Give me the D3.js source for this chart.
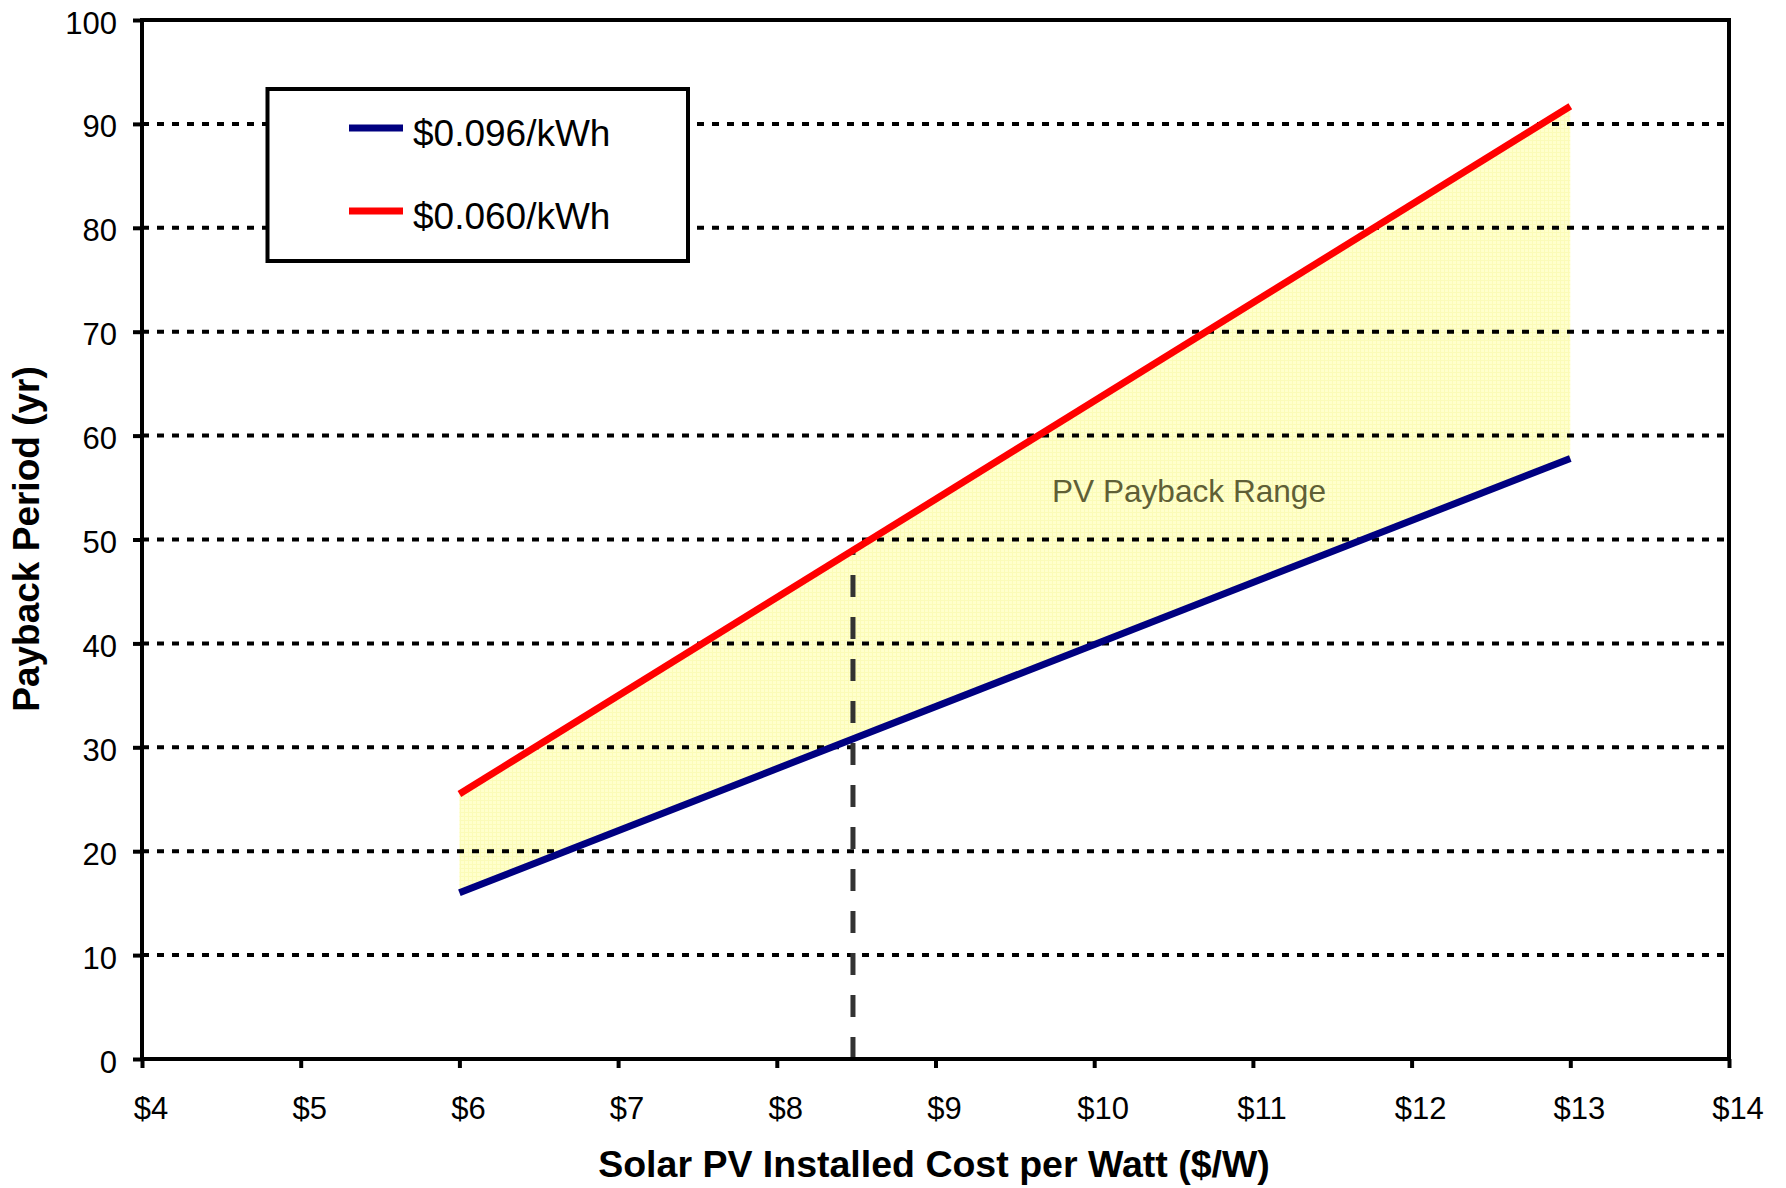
<!DOCTYPE html>
<html>
<head>
<meta charset="utf-8">
<script src="https://cdn.jsdelivr.net/npm/d3@7/dist/d3.min.js"></script>
<style>
  html, body { margin: 0; padding: 0; background: #fff; }
  svg { display: block; }
  text { font-family: "Liberation Sans", Arial, sans-serif; }
</style>
</head>
<body>
<svg id="chart" width="1786" height="1188"></svg>
<script>
// ---- data ----
const costs = [6, 13];                       // $/W installed cost
const payback096 = [16.0, 57.8];             // $0.096/kWh series (yr)
const payback060 = [25.5, 91.7];             // $0.060/kWh series (yr)
const seriesNames = ["$0.096/kWh", "$0.060/kWh"];
const xTicks = [4, 5, 6, 7, 8, 9, 10, 11, 12, 13, 14];
const yTicks = [0, 10, 20, 30, 40, 50, 60, 70, 80, 90, 100];
const markerCost = [8.48];                   // dashed reference cost
const markerTop = [49.0];                    // where it meets the red line
const rangeLabel = "PV Payback Range";
const xTitle = "Solar PV Installed Cost per Watt ($/W)";
const yTitle = "Payback Period (yr)";

// ---- layout ----
const L = 142, R = 1729, T = 20, B = 1059;
const svg = d3.select("#chart");
const x = d3.scaleLinear().domain([4, 14]).range([L, R]);
const y = d3.scaleLinear().domain([0, 100]).range([B, T]);

const pts = costs.map((c, i) => ({ c, lo: payback096[i], hi: payback060[i] }));

// pattern fill
const defs = svg.append("defs");
const pat = defs.append("pattern").attr("id", "yel").attr("patternUnits", "userSpaceOnUse")
  .attr("width", 4).attr("height", 4);
pat.append("rect").attr("width", 4).attr("height", 4).attr("fill", "#ffffcc");
pat.append("rect").attr("width", 4).attr("height", 1).attr("fill", "#fbfbb8");
pat.append("rect").attr("width", 1).attr("height", 4).attr("fill", "#fbfbb8");

// range area
svg.append("path").datum(pts)
  .attr("d", d3.area().x(d => x(d.c)).y0(d => y(d.lo)).y1(d => y(d.hi)))
  .attr("fill", "url(#yel)");

// gridlines
svg.append("g").selectAll("line").data(yTicks.filter(v => v > 0 && v < 100)).join("line")
  .attr("x1", L).attr("x2", R).attr("y1", d => y(d)).attr("y2", d => y(d))
  .attr("stroke", "#000").attr("stroke-width", 4).attr("stroke-dasharray", "7 8");

// dashed marker
svg.append("g").selectAll("line").data(markerCost).join("line")
  .attr("x1", d => x(d)).attr("x2", d => x(d))
  .attr("y1", y(0)).attr("y2", (d, i) => y(markerTop[i]))
  .attr("stroke", "#333").attr("stroke-width", 5).attr("stroke-dasharray", "22 20");

// lines
const line = d3.line().x(d => x(d[0])).y(d => y(d[1]));
svg.append("path").datum(costs.map((c, i) => [c, payback096[i]]))
  .attr("d", line).attr("fill", "none").attr("stroke", "#000080").attr("stroke-width", 7);
svg.append("path").datum(costs.map((c, i) => [c, payback060[i]]))
  .attr("d", line).attr("fill", "none").attr("stroke", "#ff0000").attr("stroke-width", 7);

// range label
svg.append("text").attr("x", 1052).attr("y", 502).attr("font-size", 31.6)
  .attr("fill", "#5f5f36").text(rangeLabel);

// frame
svg.append("rect").attr("x", L).attr("y", T).attr("width", R - L).attr("height", B - T)
  .attr("fill", "none").attr("stroke", "#000").attr("stroke-width", 4);

// axes
const yAxis = svg.append("g").attr("transform", `translate(${L},0)`)
  .call(d3.axisLeft(y).tickValues(yTicks).tickSize(9).tickPadding(16).tickSizeOuter(0));
yAxis.select(".domain").remove();
yAxis.selectAll("line").attr("stroke", "#000").attr("stroke-width", 4);
yAxis.selectAll("text").attr("font-size", 31).attr("dy", "0.42em").attr("fill", "#000")
  .attr("font-family", "Liberation Sans, Arial, sans-serif");

const xAxis = svg.append("g").attr("transform", `translate(0,${B})`)
  .call(d3.axisBottom(x).tickValues(xTicks).tickSize(9).tickPadding(29).tickSizeOuter(0)
    .tickFormat(d => "$" + d));
xAxis.select(".domain").remove();
xAxis.selectAll("line").attr("stroke", "#000").attr("stroke-width", 4);
xAxis.selectAll("text").attr("font-size", 31).attr("fill", "#000").attr("dx", 8.5)
  .attr("font-family", "Liberation Sans, Arial, sans-serif");

// titles
svg.append("text").attr("transform", "translate(39,539) rotate(-90)")
  .attr("text-anchor", "middle").attr("font-size", 37).attr("font-weight", "bold").text(yTitle);
svg.append("text").attr("x", 934).attr("y", 1177)
  .attr("text-anchor", "middle").attr("font-size", 37.5).attr("font-weight", "bold").text(xTitle);

// legend
const lg = svg.append("g");
lg.append("rect").attr("x", 267.5).attr("y", 89).attr("width", 420.5).attr("height", 172)
  .attr("fill", "#fff").attr("stroke", "#000").attr("stroke-width", 4);
const colors = ["#000080", "#ff0000"];
const rows = lg.selectAll("g").data(seriesNames).join("g")
  .attr("transform", (d, i) => `translate(0,${i * 83})`);
rows.append("line").attr("x1", 349).attr("x2", 403).attr("y1", 128).attr("y2", 128)
  .attr("stroke", (d, i) => colors[i]).attr("stroke-width", 7);
rows.append("text").attr("x", 413).attr("y", 146).attr("font-size", 37).text(d => d);
</script>
</body>
</html>
